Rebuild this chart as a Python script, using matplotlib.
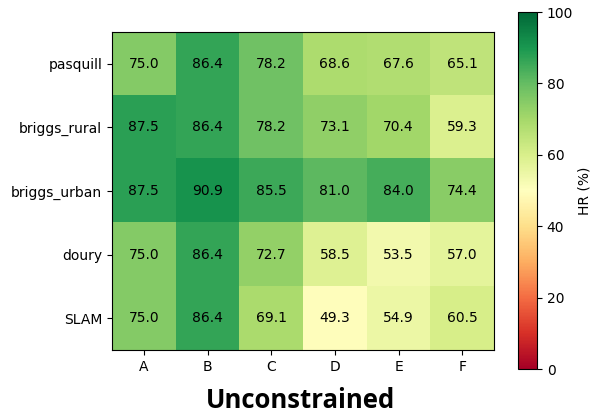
import numpy as np
import matplotlib
matplotlib.use("Agg")
import matplotlib.pyplot as plt

# Data
models = ["pasquill", "briggs_rural", "briggs_urban", "doury", "SLAM"]
classes = ["A", "B", "C", "D", "E", "F"]
hr = np.array([
    [75.0, 86.4, 78.2, 68.6, 67.6, 65.1],
    [87.5, 86.4, 78.2, 73.1, 70.4, 59.3],
    [87.5, 90.9, 85.5, 81.0, 84.0, 74.4],
    [75.0, 86.4, 72.7, 58.5, 53.5, 57.0],
    [75.0, 86.4, 69.1, 49.3, 54.9, 60.5],
])

fig = plt.figure(figsize=(5.93, 4.19), dpi=100)
ax = fig.add_axes([112/593, 1 - 350/419, (494-112)/593, (350-32)/419])
cax = fig.add_axes([518/593, 1 - 369/419, (537-518)/593, (369-12)/419])

im = ax.imshow(hr, cmap="RdYlGn", vmin=0, vmax=100, aspect="auto")
for i in range(len(models)):
    for j in range(len(classes)):
        ax.text(j, i, f"{hr[i, j]:.1f}", ha="center", va="center", fontsize=10, color="black")

ax.set_xticks(range(len(classes)))
ax.set_xticklabels(classes)
ax.set_yticks(range(len(models)))
ax.set_yticklabels(models)
ax.tick_params(labelsize=10)

cb = fig.colorbar(im, cax=cax)
cb.set_label("HR (%)", fontsize=10, labelpad=3)
cb.ax.tick_params(labelsize=10)

fig.text(301/593, 1 - 400/419, "Unconstrained", ha="center", va="center",
         fontsize=18.5, fontweight="bold", family="Open Sans")

fig.savefig("out.png", dpi=100)
